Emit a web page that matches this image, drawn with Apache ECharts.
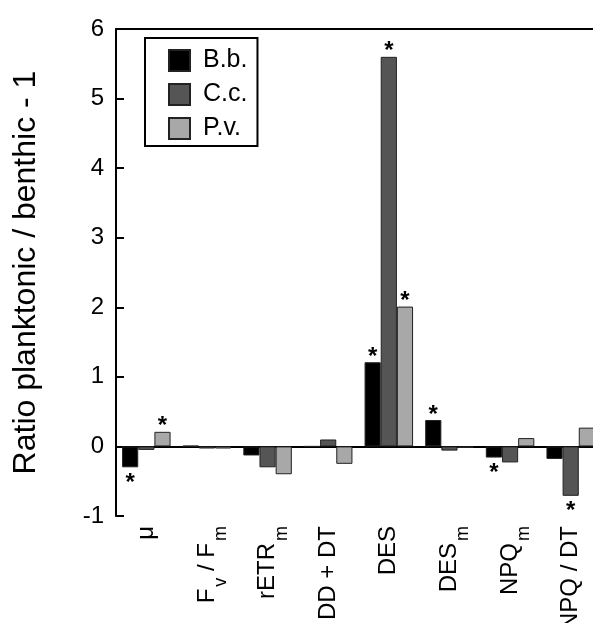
<!DOCTYPE html>
<html>
<head>
<meta charset="utf-8">
<script src="https://cdn.jsdelivr.net/npm/echarts@6/dist/echarts.min.js"></script>
<style>
  html, body { margin: 0; padding: 0; background: #fff; }
  #chart { width: 593px; height: 623px; }
</style>
</head>
<body>
<div id="chart"></div>
<script>
// categories (rich-text formatted below)
var categories = ['mu', 'FvFm', 'rETRm', 'DDDT', 'DES', 'DESm', 'NPQm', 'NPQDT'];
var catLabels = {
  mu: '{n|μ}',
  FvFm: '{n|F}{s|v}{n| / F}{s|m}',
  rETRm: '{n|rETR}{s|m}',
  DDDT: '{n|DD + DT}',
  DES: '{n|DES}',
  DESm: '{n|DES}{s|m}',
  NPQm: '{n|NPQ}{s|m}',
  NPQDT: '{n|NPQ / DT}'
};
var seriesNames = ['B.b.', 'C.c.', 'P.v.'];
var valuesBb = [-0.30, 0.01, -0.13, 0.00, 1.21, 0.38, -0.16, -0.18];
var valuesCc = [-0.05, -0.03, -0.30, 0.10, 5.60, -0.06, -0.23, -0.71];
var valuesPv = [0.21, -0.03, -0.40, -0.25, 2.01, -0.02, 0.12, 0.27];
// significance marks
var starsBb = [1, 0, 0, 0, 1, 1, 1, 0];
var starsCc = [0, 0, 0, 0, 1, 0, 0, 1];
var starsPv = [1, 0, 0, 0, 1, 0, 0, 0];
var colors = ['#000000', '#555555', '#a8a8a8'];
var yTicks = [-1, 0, 1, 2, 3, 4, 5, 6];

var font = 'Liberation Sans, Arial, sans-serif';

function makeData(values, stars) {
  return values.map(function (v, i) {
    var pos = v >= 0;
    return {
      value: v,
      label: {
        show: !!stars[i],
        position: pos ? 'top' : 'bottom',
        distance: pos ? -7 : 4
      }
    };
  });
}

function makeSeries(name, values, stars, color) {
  return {
    name: name,
    type: 'bar',
    data: makeData(values, stars),
    barGap: '0%',
    barCategoryGap: '20%',
    itemStyle: { color: color, borderColor: '#222', borderWidth: 1 },
    label: {
      formatter: '*',
      color: '#000',
      fontSize: 24,
      fontWeight: 'bold',
      fontFamily: font
    },
    emphasis: { disabled: true },
    animation: false
  };
}

var chart = echarts.init(document.getElementById('chart'), null, { renderer: 'canvas' });

chart.setOption({
  animation: false,
  grid: { left: 116, right: -8, top: 29, bottom: 107, containLabel: false, outerBoundsMode: 'none' },
  legend: {
    orient: 'vertical',
    left: 145,
    top: 38,
    data: seriesNames,
    icon: 'rect',
    itemWidth: 21,
    itemHeight: 21,
    itemGap: 9,
    padding: [10, 10, 5, 23],
    borderColor: '#000',
    borderWidth: 2,
    selectedMode: false,
    textStyle: { fontSize: 25, fontFamily: font, color: '#000', padding: [0, 0, 0, 8], lineHeight: 21 }
  },
  xAxis: [{
    type: 'category',
    data: categories,
    position: 'bottom',
    axisLine: { lineStyle: { color: '#000', width: 2 } },
    axisTick: { inside: true, length: 11, lineStyle: { color: '#000', width: 2 } },
    axisLabel: {
      rotate: 90,
      margin: 10,
      interval: 0,
      formatter: function (v) { return catLabels[v]; },
      rich: {
        n: { fontSize: 24, fontFamily: font, color: '#000', lineHeight: 46 },
        s: { fontSize: 18, fontFamily: font, color: '#000', lineHeight: 24, verticalAlign: 'bottom', padding: [0, 0, 0, 2] }
      }
    },
    splitLine: { show: false }
  }, {
    type: 'category',
    data: categories,
    position: 'top',
    axisLine: { lineStyle: { color: '#000', width: 2 } },
    axisTick: { show: false },
    axisLabel: { show: false }
  }],
  yAxis: {
    type: 'value',
    min: yTicks[0],
    max: yTicks[yTicks.length - 1],
    interval: 1,
    name: 'Ratio planktonic / benthic - 1',
    nameLocation: 'middle',
    nameGap: 74,
    nameTextStyle: { fontSize: 32, fontFamily: font, color: '#000' },
    axisLine: { show: true, lineStyle: { color: '#000', width: 2 } },
    axisTick: { show: true, inside: true, length: 8, lineStyle: { color: '#000', width: 2 } },
    axisLabel: { fontSize: 24, fontFamily: font, color: '#000', margin: 12 },
    splitLine: { show: false }
  },
  series: [
    makeSeries(seriesNames[0], valuesBb, starsBb, colors[0]),
    makeSeries(seriesNames[1], valuesCc, starsCc, colors[1]),
    makeSeries(seriesNames[2], valuesPv, starsPv, colors[2])
  ]
});
</script>
</body>
</html>
